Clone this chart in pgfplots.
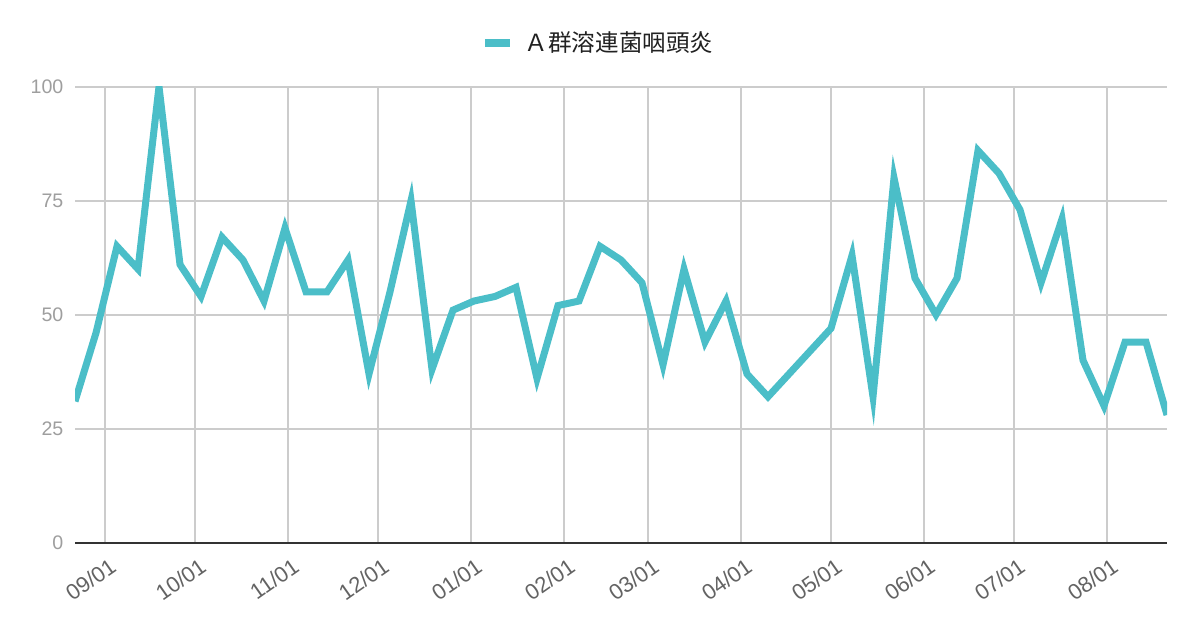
\documentclass[border=0pt]{standalone}
\usepackage{fontspec}
\setmainfont{Liberation Sans}
\newfontfamily\cjk{Noto Sans CJK JP}
\usepackage{pgfplots}
\pgfplotsset{compat=1.18}

\definecolor{lineteal}{HTML}{4BBEC8}
\definecolor{gridgray}{HTML}{CCCCCC}
\definecolor{ylabgray}{HTML}{9E9E9E}
\definecolor{xlabgray}{HTML}{636363}
\definecolor{basegray}{HTML}{333333}

\begin{document}
\begin{tikzpicture}
\path[use as bounding box] (0,0) rectangle (600bp,313bp);
\begin{axis}[
    at={(37.5bp,41.65bp)}, anchor=south west,
    width=546bp, height=228bp, scale only axis,
    xmin=-10, xmax=354, ymin=0, ymax=100,
    clip mode=individual,
    axis line style={draw=none},
    tick style={draw=none},
    grid=major,
    grid style={gridgray, line width=1bp},
    xtick={0,30,61,91,122,153,181,212,242,273,303,334},
    xticklabels={09/01,10/01,11/01,12/01,01/01,02/01,03/01,04/01,05/01,06/01,07/01,08/01},
    ytick={0,25,50,75,100},
    /pgf/number format/assume math mode=true,
    yticklabel style={font=\fontsize{9.8bp}{11bp}\selectfont, text=ylabgray, xshift=-2.3bp},
    xticklabel style={font=\fontsize{11bp}{13bp}\selectfont, text=xlabgray,
      xshift=2.6bp, yshift=-2.3bp, rotate=35, anchor=north east},
    legend style={at={(0.48,1.095)}, anchor=center, draw=none, fill=none,
      font=\cjk\fontsize{11.8bp}{14bp}\selectfont, text=black!87, column sep=3.5bp},
    legend image code/.code={\draw[line width=4bp, lineteal] (0bp,0bp) -- (12.5bp,0bp);},
]
\addplot[lineteal, line width=3.5bp, line join=miter, miter limit=20, mark=none] coordinates {
(-10,31) (-3,46) (4,65) (11,60) (18,100) (25,61) (32,54) (39,67) (46,62) (53,53)
(60,69) (67,55) (74,55) (81,62) (88,37) (95,55) (102,75) (109,38) (116,51) (123,53)
(130,54) (137,56) (144,36) (151,52) (158,53) (165,65) (172,62) (179,57) (186,39) (193,60)
(200,44) (207,53) (214,37) (221,32) (228,37) (235,42) (242,47) (249,63) (256,32) (263,80)
(270,58) (277,50) (284,58) (291,86) (298,81) (305,73) (312,57) (319,71) (326,40) (333,30)
(340,44) (347,44) (354,28)
};
\addlegendentry{Ａ群溶連菌咽頭炎}
\draw[basegray, line width=1bp] (axis cs:-10,0) -- (axis cs:354,0);
\end{axis}
\end{tikzpicture}
\end{document}
